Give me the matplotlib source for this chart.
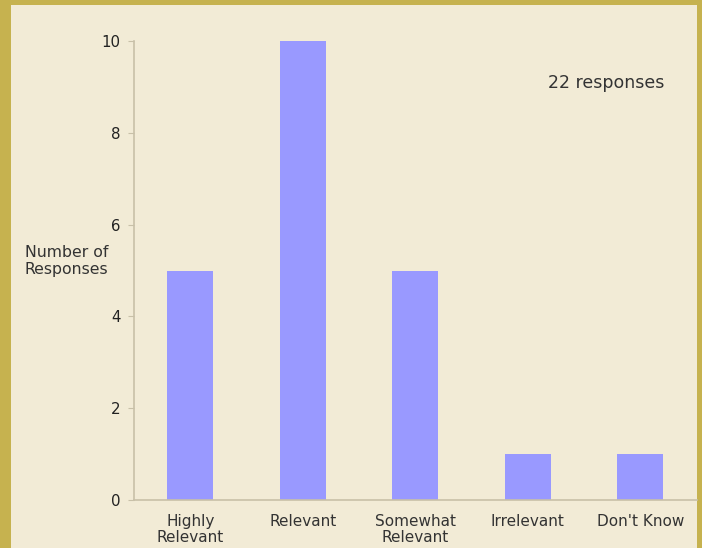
import matplotlib
matplotlib.use("Agg")
import matplotlib.pyplot as plt
from matplotlib.patches import Rectangle

plt.rcParams["font.family"] = ["DejaVu Sans"]

categories = ["Highly\nRelevant", "Relevant", "Somewhat\nRelevant", "Irrelevant", "Don't Know"]
values = [5, 10, 5, 1, 1]
yticks = [0, 2, 4, 6, 8, 10]

W, H = 702, 548
fig = plt.figure(figsize=(W / 100, H / 100), dpi=100)
fig.patch.set_facecolor("#c6b24f")
bg = Rectangle((11 / W, 0), (697 - 11) / W, (H - 5) / H,
               transform=fig.transFigure, facecolor="#f2ebd6",
               edgecolor="none", zorder=-10)
fig.patches.append(bg)

ax = fig.add_axes([134 / W, (H - 500) / H, (696.5 - 134) / W, (500 - 41) / H])
ax.set_zorder(5)
ax.set_facecolor("none")
ax.bar(range(len(values)), values, width=0.41, color="#9999ff", zorder=2)
ax.set_xlim(-0.5, 4.5)
ax.set_ylim(0, 10)
ax.set_yticks(yticks)
ax.set_xticks(range(len(categories)))
ax.set_xticklabels(categories, fontsize=11, color="#333333", linespacing=1.1)
ax.tick_params(axis="x", length=0, pad=10)
ax.tick_params(axis="y", length=4.3, color="#c8c0a8", labelsize=10.8, labelcolor="#222222", pad=5.5)
for s in ["top", "right"]:
    ax.spines[s].set_visible(False)
for s in ["left", "bottom"]:
    ax.spines[s].set_color("#c8c0a8")
    ax.spines[s].set_linewidth(1.2)

t1 = fig.text(25 / W, 1 - 261 / H, "Number of\nResponses", fontsize=11.3, color="#333333",
              ha="left", va="center", linespacing=1.1)
t2 = fig.text(548 / W, 1 - 83 / H, "22 responses", fontsize=12.5, color="#333333",
              ha="left", va="center")
t1.set_zorder(6)
t2.set_zorder(6)

fig.savefig("out.png", dpi=100, facecolor=fig.get_facecolor())
